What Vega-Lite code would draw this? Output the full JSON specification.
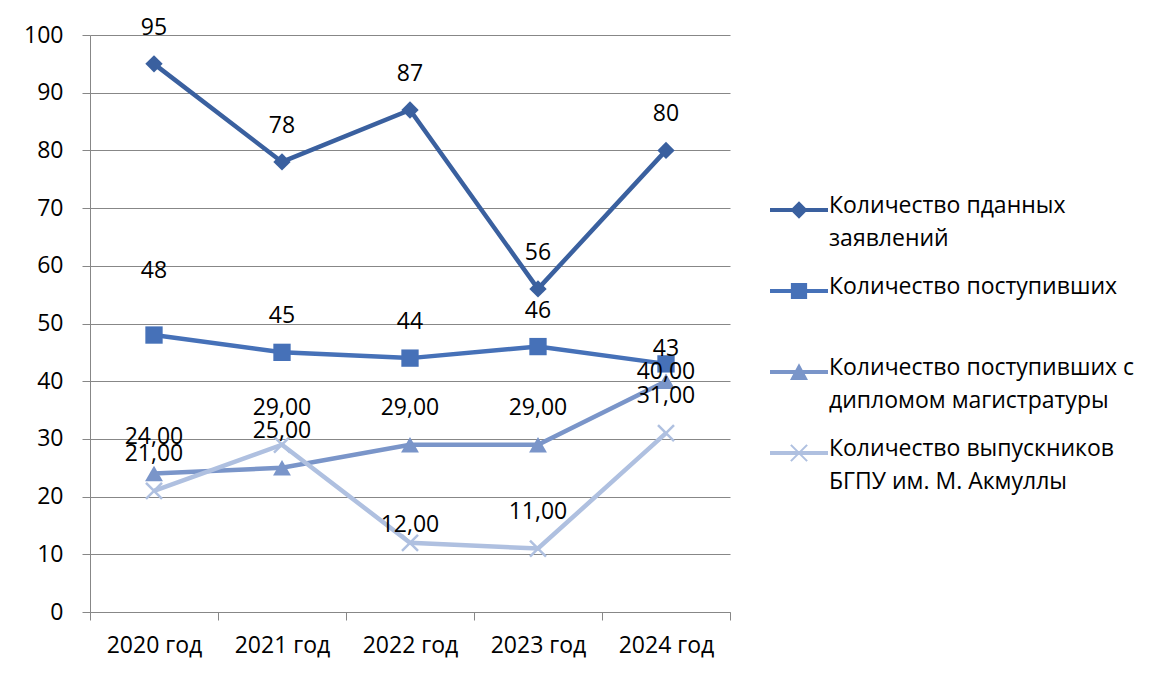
{
  "$schema": "https://vega.github.io/schema/vega-lite/v6.json",
  "width": 640,
  "height": 577,
  "autosize": "none",
  "padding": {"left": 90, "top": 35, "right": 426, "bottom": 63},
  "background": "white",
  "config": {
    "font": "Open Sans",
    "view": {"stroke": null},
    "locale": {"number": {"decimal": ",", "thousands": " ", "grouping": [3], "currency": ["", ""]}}
  },
  "data": {
    "values": [
      {"year": "2020 год", "series": "Количество пданных заявлений", "value": 95},
      {"year": "2021 год", "series": "Количество пданных заявлений", "value": 78},
      {"year": "2022 год", "series": "Количество пданных заявлений", "value": 87},
      {"year": "2023 год", "series": "Количество пданных заявлений", "value": 56},
      {"year": "2024 год", "series": "Количество пданных заявлений", "value": 80},
      {"year": "2020 год", "series": "Количество поступивших", "value": 48},
      {"year": "2021 год", "series": "Количество поступивших", "value": 45},
      {"year": "2022 год", "series": "Количество поступивших", "value": 44},
      {"year": "2023 год", "series": "Количество поступивших", "value": 46},
      {"year": "2024 год", "series": "Количество поступивших", "value": 43},
      {"year": "2020 год", "series": "Количество поступивших с дипломом магистратуры", "value": 24},
      {"year": "2021 год", "series": "Количество поступивших с дипломом магистратуры", "value": 25},
      {"year": "2022 год", "series": "Количество поступивших с дипломом магистратуры", "value": 29},
      {"year": "2023 год", "series": "Количество поступивших с дипломом магистратуры", "value": 29},
      {"year": "2024 год", "series": "Количество поступивших с дипломом магистратуры", "value": 40},
      {"year": "2020 год", "series": "Количество выпускников БГПУ им. М. Акмуллы", "value": 21},
      {"year": "2021 год", "series": "Количество выпускников БГПУ им. М. Акмуллы", "value": 29},
      {"year": "2022 год", "series": "Количество выпускников БГПУ им. М. Акмуллы", "value": 12},
      {"year": "2023 год", "series": "Количество выпускников БГПУ им. М. Акмуллы", "value": 11},
      {"year": "2024 год", "series": "Количество выпускников БГПУ им. М. Акмуллы", "value": 31}
    ]
  },
  "encoding": {
    "x": {
      "field": "year", "type": "nominal", "bandPosition": 0.5,
      "scale": {"type": "band", "paddingInner": 0, "paddingOuter": 0},
      "axis": {
        "title": null, "labelAngle": 0, "labelFontSize": 23, "labelColor": "#000000",
        "tickBand": "extent", "tickSize": 8, "tickColor": "#878787", "domainColor": "#878787",
        "labelPadding": 14, "grid": false
      }
    },
    "y": {
      "field": "value", "type": "quantitative",
      "scale": {"domain": [0, 100], "nice": false},
      "axis": {
        "title": null, "values": [0, 10, 20, 30, 40, 50, 60, 70, 80, 90, 100],
        "labelFontSize": 23, "labelColor": "#000000", "tickSize": 8, "tickColor": "#878787",
        "domainColor": "#878787", "gridColor": "#878787", "gridOpacity": 1, "labelPadding": 19
      }
    }
  },
  "layer": [
    {
      "transform": [{"filter": "false"}],
      "mark": {"type": "point", "filled": true, "opacity": 1},
      "encoding": {
        "color": {
          "field": "series", "type": "nominal",
          "scale": {
            "domain": ["Количество пданных заявлений", "Количество поступивших", "Количество поступивших с дипломом магистратуры", "Количество выпускников БГПУ им. М. Акмуллы"],
            "range": ["#3A609F", "#4671B8", "#7A95C9", "#AFC0E0"]
          },
          "legend": {
            "title": null,
            "orient": "none",
            "legendX": 680,
            "legendY": 146,
            "symbolSize": 3364,
            "symbolStrokeWidth": 0,
            "symbolOpacity": 1,
            "labelFontSize": 23,
            "labelColor": "#000000",
            "labelBaseline": "top",
            "labelLimit": 400,
            "labelOffset": 1,
            "rowPadding": 11,
            "labelExpr": "datum.index == 0 ? ['Количество пданных', 'заявлений'] : datum.index == 1 ? ['Количество поступивших', ''] : datum.index == 2 ? ['Количество поступивших с', 'дипломом магистратуры'] : ['Количество выпускников', 'БГПУ им. М. Акмуллы']",
            "encode": {
              "labels": {"update": {"lineHeight": {"value": 33}, "dy": {"value": -15}}}
            }
          }
        },
        "shape": {
          "field": "series", "type": "nominal",
          "scale": {
            "domain": ["Количество пданных заявлений", "Количество поступивших", "Количество поступивших с дипломом магистратуры", "Количество выпускников БГПУ им. М. Акмуллы"],
            "range": [
              "M-1,-0.07H1V0.07H-1ZM0,-0.3L0.3,0L0,0.3L-0.3,0Z",
              "M-1,-0.07H1V0.07H-1ZM-0.28,-0.28H0.28V0.28H-0.28Z",
              "M-1,-0.07H1V0.07H-1ZM0,-0.3L0.31,0.28L-0.31,0.28Z",
              "M-1,-0.07H1V0.07H-1ZM-0.255,-0.305L0.305,0.255L0.255,0.305L-0.305,-0.255ZM-0.305,0.255L0.255,-0.305L0.305,-0.255L-0.255,0.305Z"
            ]
          }
        }
      }
    },
    {
      "mark": {"type": "line", "strokeWidth": 4.5},
      "encoding": {"color": {"field": "series", "type": "nominal"}}
    },
    {
      "transform": [{"filter": "datum.series == 'Количество пданных заявлений'"}],
      "mark": {"type": "point", "filled": true, "size": 300, "shape": "diamond", "opacity": 1},
      "encoding": {"color": {"field": "series", "type": "nominal"}}
    },
    {
      "transform": [{"filter": "datum.series == 'Количество поступивших'"}],
      "mark": {"type": "point", "filled": true, "size": 300, "shape": "square", "opacity": 1},
      "encoding": {"color": {"field": "series", "type": "nominal"}}
    },
    {
      "transform": [{"filter": "datum.series == 'Количество поступивших с дипломом магистратуры'"}],
      "mark": {"type": "point", "filled": true, "size": 320, "shape": "triangle-up", "opacity": 1},
      "encoding": {"color": {"field": "series", "type": "nominal"}}
    },
    {
      "transform": [{"filter": "datum.series == 'Количество выпускников БГПУ им. М. Акмуллы'"}],
      "mark": {"type": "point", "filled": false, "size": 256, "strokeWidth": 2.5, "shape": "M-1,-1L1,1M-1,1L1,-1", "opacity": 1},
      "encoding": {"color": {"field": "series", "type": "nominal"}}
    },
    {
      "transform": [
        {"filter": "indexof(['Количество пданных заявлений','Количество поступивших'], datum.series) >= 0"},
        {"filter": "!(datum.series == 'Количество поступивших' && (datum.year == '2020 год' || datum.year == '2024 год'))"}
      ],
      "mark": {"type": "text", "fontSize": 23, "dy": -36, "color": "#000000"},
      "encoding": {"text": {"field": "value", "type": "quantitative", "format": "d"}}
    },
    {
      "transform": [{"filter": "datum.series == 'Количество поступивших' && datum.year == '2020 год'"}],
      "mark": {"type": "text", "fontSize": 23, "dy": -64, "color": "#000000"},
      "encoding": {"text": {"field": "value", "type": "quantitative", "format": "d"}}
    },
    {
      "transform": [{"filter": "datum.series == 'Количество поступивших' && datum.year == '2024 год'"}],
      "mark": {"type": "text", "fontSize": 23, "dy": -15, "color": "#000000"},
      "encoding": {"text": {"field": "value", "type": "quantitative", "format": "d"}}
    },
    {
      "transform": [
        {"filter": "indexof(['Количество поступивших с дипломом магистратуры','Количество выпускников БГПУ им. М. Акмуллы'], datum.series) >= 0"},
        {"filter": "!(datum.year == '2024 год' && datum.series == 'Количество поступивших с дипломом магистратуры') && !(datum.year == '2022 год' && datum.series == 'Количество выпускников БГПУ им. М. Акмуллы')"}
      ],
      "mark": {"type": "text", "fontSize": 23, "dy": -37, "color": "#000000"},
      "encoding": {"text": {"field": "value", "type": "quantitative", "format": ".2f"}}
    },
    {
      "transform": [{"filter": "datum.year == '2024 год' && datum.series == 'Количество поступивших с дипломом магистратуры'"}],
      "mark": {"type": "text", "fontSize": 23, "dy": -9, "color": "#000000"},
      "encoding": {"text": {"field": "value", "type": "quantitative", "format": ".2f"}}
    },
    {
      "transform": [{"filter": "datum.year == '2022 год' && datum.series == 'Количество выпускников БГПУ им. М. Акмуллы'"}],
      "mark": {"type": "text", "fontSize": 23, "dy": -18, "color": "#000000"},
      "encoding": {"text": {"field": "value", "type": "quantitative", "format": ".2f"}}
    }
  ]
}
